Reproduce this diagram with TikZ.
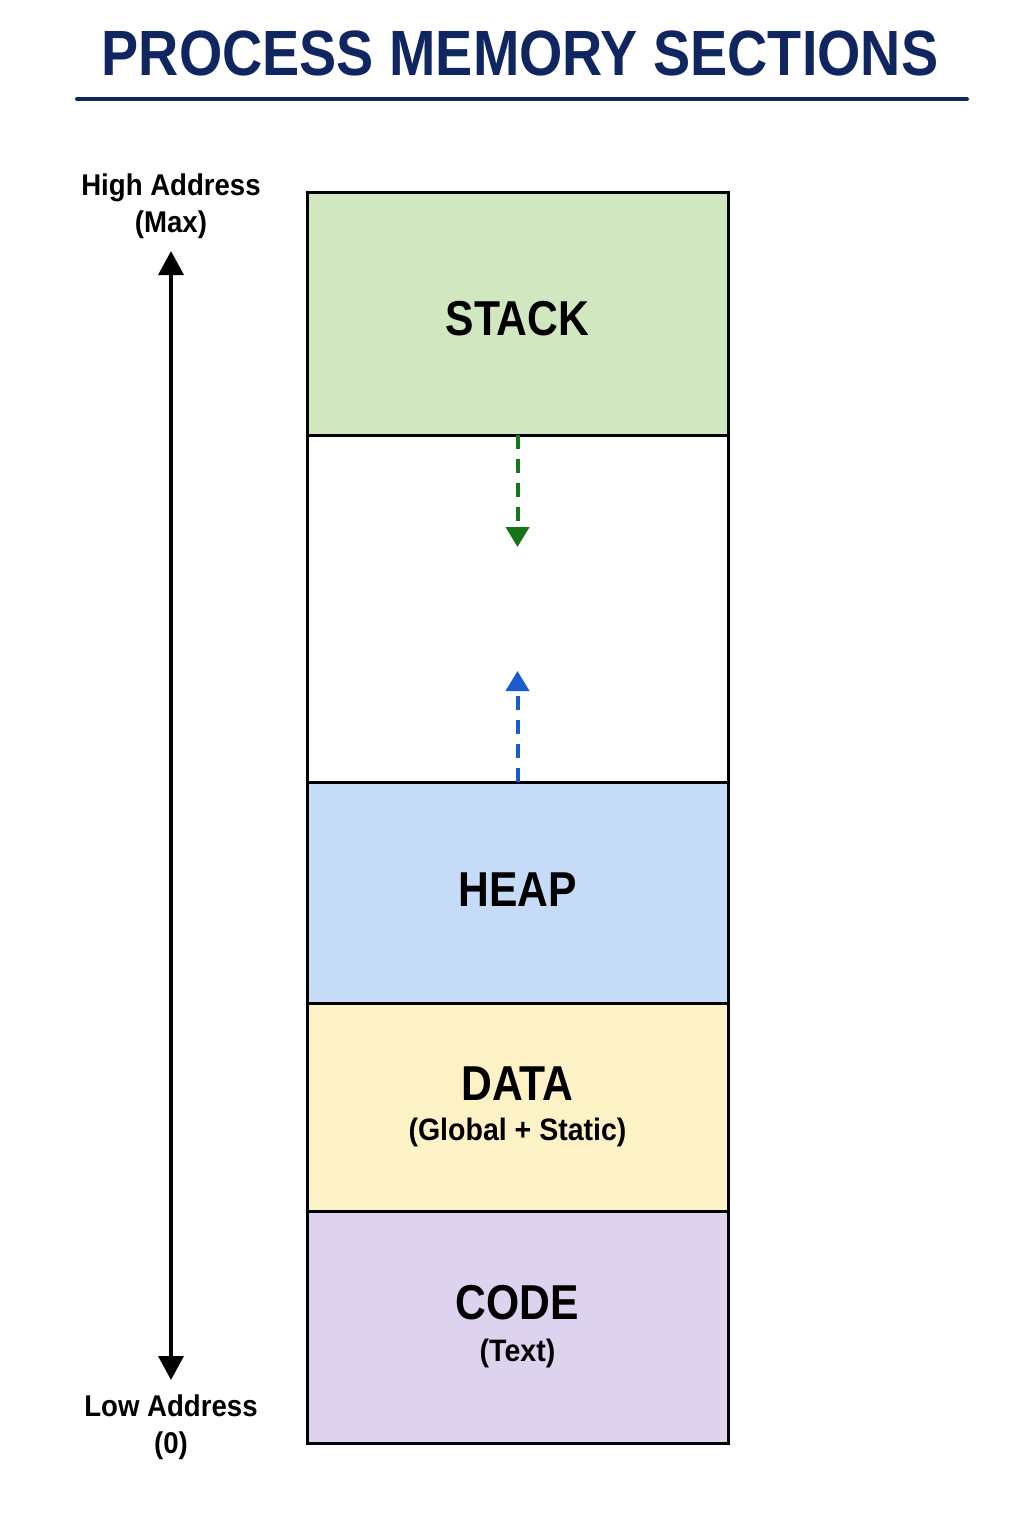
\documentclass[tikz,border=0pt]{standalone}
\usepackage{fontspec}
\setmainfont{Liberation Sans}
\newfontfamily\headfont{Liberation Sans}[FakeStretch=0.87]
\newfontfamily\labelfont{Liberation Sans}[FakeStretch=0.92]
\usetikzlibrary{positioning,arrows.meta}
\definecolor{titlenavy}{RGB}{16,38,96}
\definecolor{stackgreen}{RGB}{208,231,192}
\definecolor{heapblue}{RGB}{198,219,248}
\definecolor{datayellow}{RGB}{253,241,198}
\definecolor{codepurple}{RGB}{221,211,239}
\definecolor{growgreen}{RGB}{22,117,22}
\definecolor{growblue}{RGB}{26,91,208}
\newcommand{\secname}[1]{{\headfont\bfseries\fontsize{24.5}{29}\selectfont #1}}
\newcommand{\secsub}[1]{{\labelfont\bfseries\fontsize{15.5}{18}\selectfont #1}}
\tikzset{
  section/.style={draw=black, line width=1.5pt, minimum width=210.5pt,
    inner sep=0pt, outer sep=0pt, align=center},
  addrlabel/.style={font=\labelfont\bfseries\fontsize{15}{18.5}\selectfont, align=center, inner sep=0pt},
  addr/.style={{Triangle[length=12pt,width=12.5pt]}-{Triangle[length=12pt,width=12.5pt]}, line width=1.8pt},
  growline/.style={-{Triangle[length=10pt,width=11.5pt]}, line width=2pt, dash pattern=on 7pt off 5pt}
}
\begin{document}
\begin{tikzpicture}[x=0.5pt, y=-0.5pt]
  \fill[white] (0,0) rectangle (1024,1536);
  \useasboundingbox (0,0) rectangle (1024,1536);

  % title
  \node[text=titlenavy, font=\headfont\bfseries\fontsize{32}{38}\selectfont] (title) at (520,53) {PROCESS MEMORY SECTIONS};
  \draw[titlenavy, line width=2pt, line cap=round] (77,99) -- (967,99);

  % memory sections, top to bottom
  \node[section, fill=stackgreen, minimum height=121.5pt] (stack) at (517.5,313.5) {\raisebox{-2.5pt}[\height][\depth]{\secname{STACK}}};
  \node[section, fill=white, minimum height=173.5pt, below=0pt of stack] (free) {};
  \node[section, fill=heapblue, minimum height=110.5pt, below=0pt of free] (heap) {\raisebox{1.5pt}[\height][\depth]{\secname{HEAP}}};
  \node[section, fill=datayellow, minimum height=104pt, below=0pt of heap] (data) {\secname{DATA}\\[8pt]\secsub{(Global + Static)}};
  \node[section, fill=codepurple, minimum height=116pt, below=0pt of data] (code) {\secname{CODE}\\[9pt]\secsub{(Text)}};

  % growth directions
  \draw[growline, growgreen] (stack.south) -- ++(0,112);
  \draw[growline, growblue] (heap.north) -- ++(0,-111);

  % address axis
  \coordinate (maxpt) at (171,251);
  \coordinate (minpt) at (171,1380);
  \node[addrlabel, above=6pt of maxpt] (hi) {High Address\\(Max)};
  \node[addrlabel, below=7pt of minpt] (lo) {Low Address\\(0)};
  \draw[addr] (minpt) -- (maxpt);
\end{tikzpicture}
\end{document}
